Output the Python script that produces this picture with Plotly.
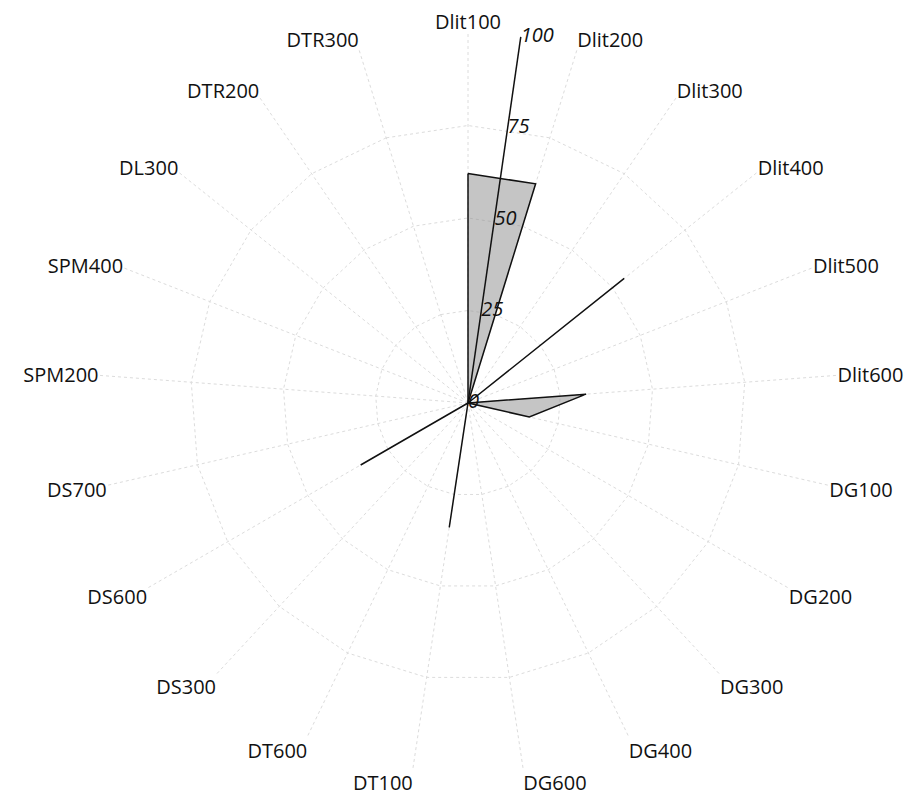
import plotly.graph_objects as go

categories = ["Dlit100", "Dlit200", "Dlit300", "Dlit400", "Dlit500", "Dlit600",
              "DG100", "DG200", "DG300", "DG400", "DG600", "DT100", "DT600",
              "DS300", "DS600", "DS700", "SPM200", "SPM400", "DL300", "DTR200", "DTR300"]
values = [62, 62, 0, 54, 0, 32, 17, 0, 0, 0, 0, 34, 0, 0, 33.5, 0, 0, 0, 0, 0, 0]
radial_ticks = [0, 25, 50, 75, 100]
radial_tick_labels = ["0", "25", "50", "75", "100"]
radial_axis_bearing = 8.2   # degrees clockwise from north

W, H = 917, 795
cx, cy, R = 460, 395, 370
dom_x = [(cx - R) / W, (cx + R) / W]
dom_y = [1 - (cy + R) / H, 1 - (cy - R) / H]

fig = go.Figure()
fig.add_trace(go.Scatterpolar(
    r=values + [values[0]],
    theta=categories + [categories[0]],
    mode="lines",
    fill="toself",
    fillcolor="rgba(140,140,140,0.5)",
    line=dict(color="#111111", width=1.5),
    showlegend=False,
    subplot="polar",
))
# radial tick labels placed along the tilted radial axis
fig.add_trace(go.Scatterpolar(
    r=radial_ticks, theta=[radial_axis_bearing] * len(radial_ticks),
    mode="text", text=radial_tick_labels, textposition="middle right",
    textfont=dict(family="Open Sans", size=20, color="#111111", style="italic"),
    cliponaxis=False, hoverinfo="skip", showlegend=False, subplot="polar2",
))

fig.update_layout(
    width=W, height=H,
    margin=dict(l=0, r=0, t=0, b=0),
    paper_bgcolor="white",
    plot_bgcolor="white",
    font=dict(family="Open Sans", size=20, color="#111111"),
    polar=dict(
        domain=dict(x=dom_x, y=dom_y),
        bgcolor="white",
        gridshape="linear",
        angularaxis=dict(
            rotation=90, direction="clockwise",
            categoryorder="array", categoryarray=categories,
            showline=False, ticks="",
            gridcolor="#dcdcdc", griddash="dot", gridwidth=1,
            tickfont=dict(family="Open Sans", size=20, color="#111111"),
        ),
        radialaxis=dict(
            range=[0, 100],
            tickvals=radial_ticks,
            showline=False, showticklabels=False, ticks="",
            gridcolor="#dcdcdc", griddash="dot", gridwidth=1,
        ),
    ),
    polar2=dict(
        domain=dict(x=dom_x, y=dom_y),
        bgcolor="rgba(0,0,0,0)",
        angularaxis=dict(visible=False, rotation=90, direction="clockwise"),
        radialaxis=dict(
            range=[0, 100], angle=90 - radial_axis_bearing,
            showline=True, linecolor="#111111", linewidth=1.5,
            showgrid=False, showticklabels=False, ticks="",
        ),
    ),
)
fig.write_html("out.html")
